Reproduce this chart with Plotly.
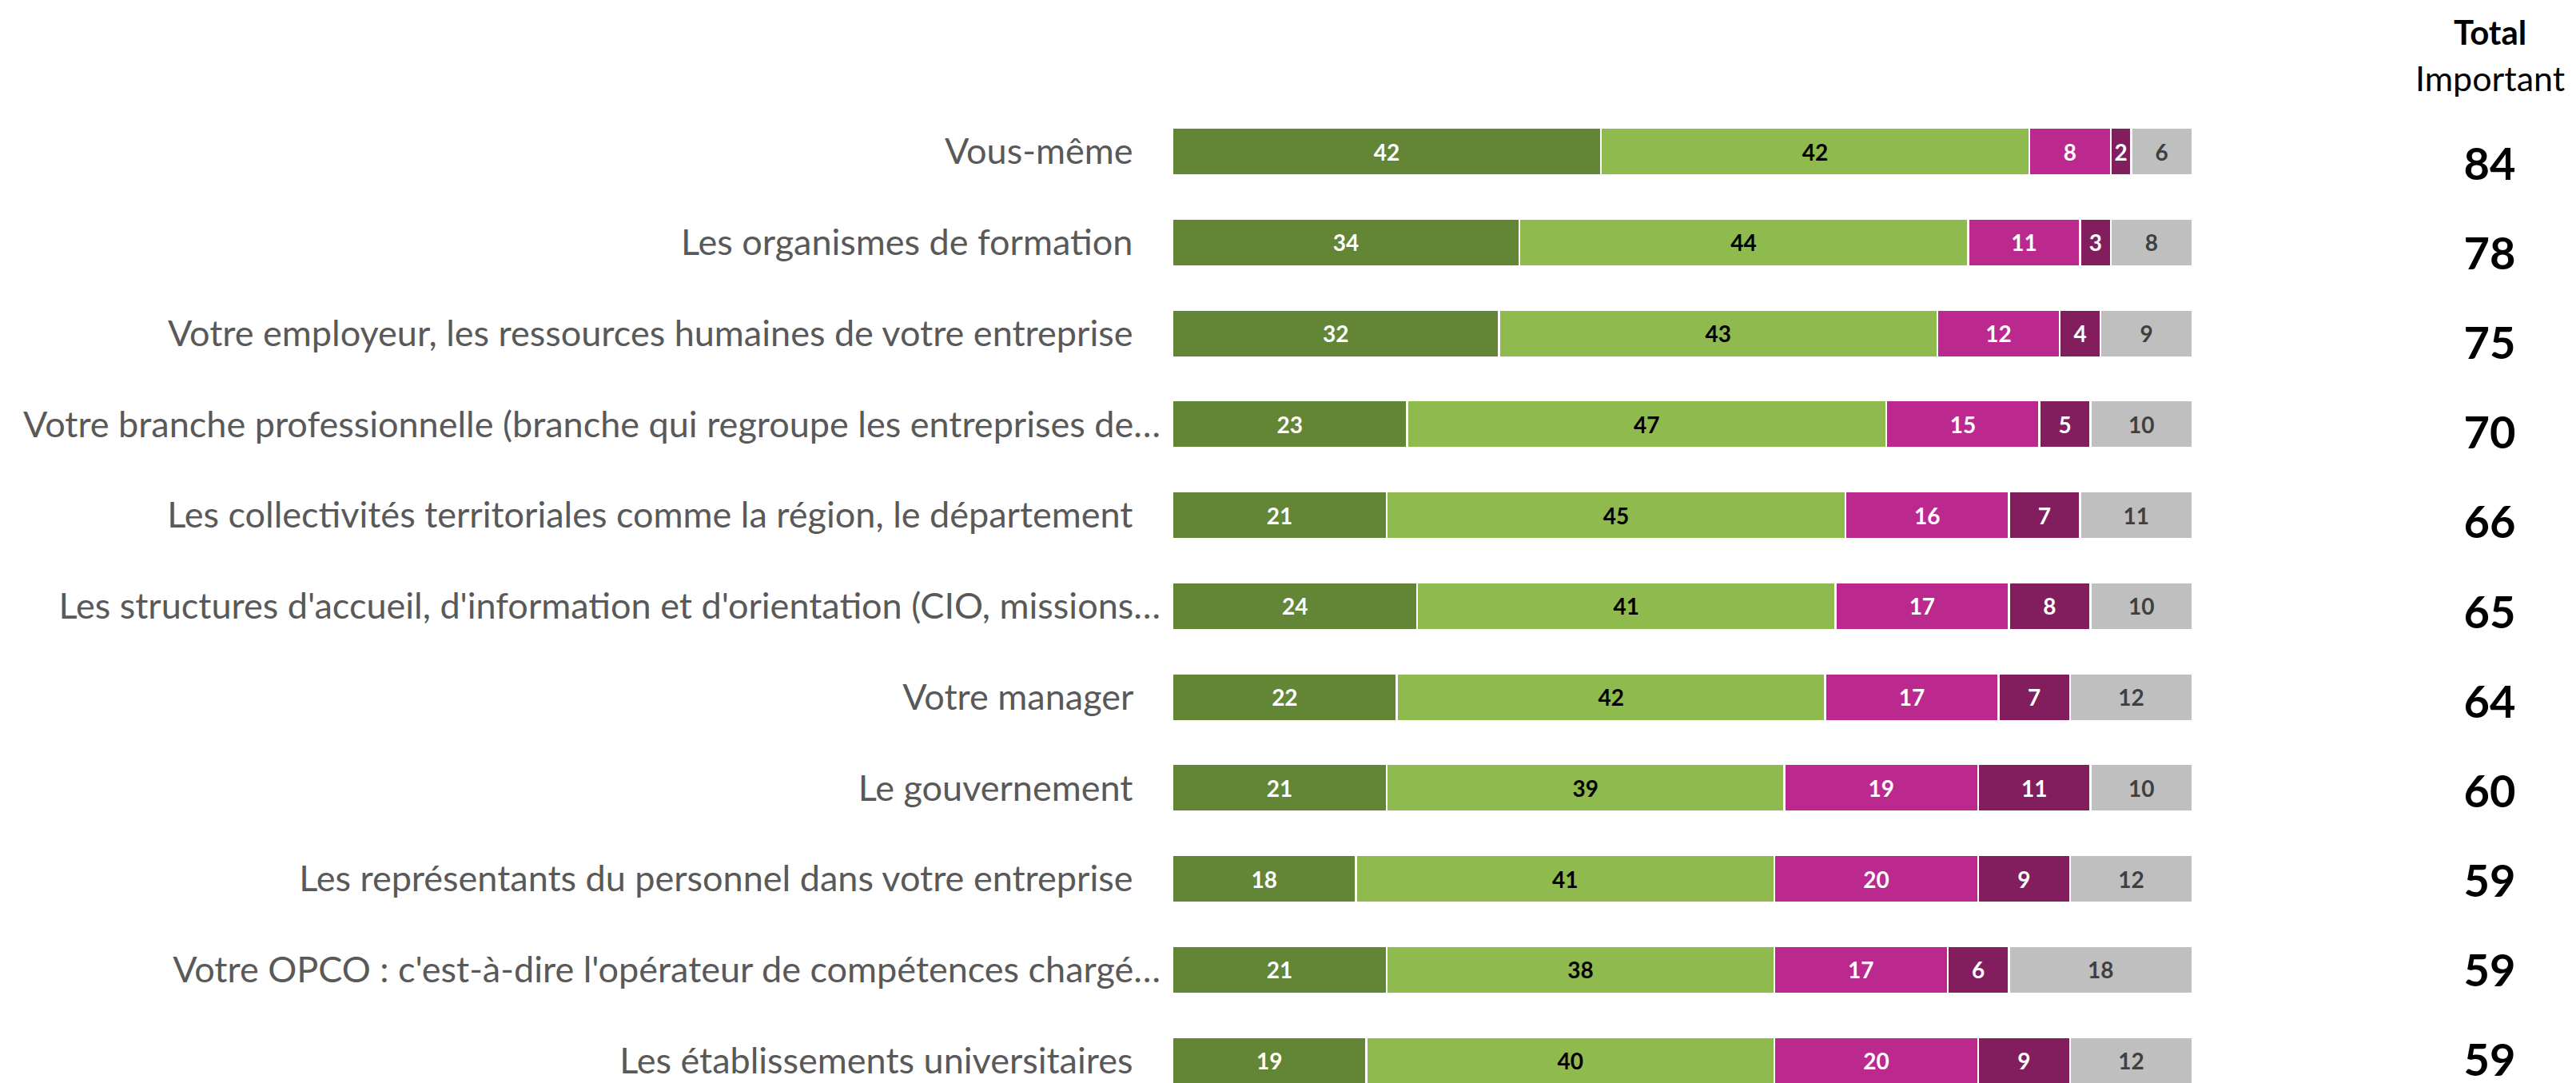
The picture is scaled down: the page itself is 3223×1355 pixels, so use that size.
import plotly.graph_objects as go

# acteurs (ordre du haut vers le bas)
categories = [
    "Vous-même",
    "Les organismes de formation",
    "Votre employeur, les ressources humaines de votre entreprise",
    "Votre branche professionnelle (branche qui regroupe les entreprises de…",
    "Les collectivités territoriales comme la région, le département",
    "Les structures d'accueil, d'information et d'orientation (CIO, missions…",
    "Votre manager",
    "Le gouvernement",
    "Les représentants du personnel dans votre entreprise",
    "Votre OPCO : c'est-à-dire l'opérateur de compétences chargé…",
    "Les établissements universitaires",
]

tres_important = [42, 34, 32, 23, 21, 24, 22, 21, 18, 21, 19]
assez_important = [42, 44, 43, 47, 45, 41, 42, 39, 41, 38, 40]
peu_important = [8, 11, 12, 15, 16, 17, 17, 19, 20, 17, 20]
pas_important = [2, 3, 4, 5, 7, 8, 7, 11, 9, 6, 9]
ne_sait_pas = [6, 8, 9, 10, 11, 10, 12, 10, 12, 18, 12]

total_important = [84, 78, 75, 70, 66, 65, 64, 60, 59, 59, 59]

series = [
    ("Très important", tres_important, "#638536", "white"),
    ("Assez important", assez_important, "#8EBA4E", "black"),
    ("Peu important", peu_important, "#BB298F", "white"),
    ("Pas du tout important", pas_important, "#821E5E", "white"),
    ("Ne sait pas", ne_sait_pas, "#BFBFBF", "#404040"),
]

W, H = 3223, 1355
OFF = 8  # marge du body de la page

# Excel garde un espace final sur les libellés non tronqués
labels = [c if c.endswith("…") else c + "\u00a0\u00a0\u00a0" for c in categories]

fig = go.Figure()
for name, vals, color, txtcolor in series:
    fig.add_trace(go.Bar(
        y=labels, x=vals, name=name, orientation="h",
        marker=dict(color=color, line=dict(color="white", width=2.5)),
        texttemplate="<b>%{x}</b>", textposition="inside",
        insidetextanchor="middle", textangle=0,
        textfont=dict(family="Lato", size=28, color=txtcolor),
    ))

# colonne "Total Important" : son propre axe, espacement un peu différent
fig.add_trace(go.Scatter(
    y=labels, x=[0] * len(labels), yaxis="y2", xaxis="x2",
    mode="text", text=[f"<b>{t}</b>" for t in total_important],
    textfont=dict(family="Lato", size=56, color="black"),
    textposition="middle center", cliponaxis=False, hoverinfo="skip",
))

tx = (3115 - OFF) / W
fig.add_annotation(x=tx, xref="paper", y=1 - (40 - OFF) / H, yref="paper",
                   text="<b>Total</b>", showarrow=False,
                   xanchor="center", yanchor="middle",
                   font=dict(family="Lato", size=42, color="black"))
fig.add_annotation(x=tx, xref="paper", y=1 - (97 - OFF) / H, yref="paper",
                   text="Important", showarrow=False,
                   xanchor="center", yanchor="middle",
                   font=dict(family="Lato", size=43, color="black"))

fig.update_layout(
    width=W, height=H,
    barmode="stack", bargap=0.477,
    showlegend=False,
    plot_bgcolor="white", paper_bgcolor="white",
    margin=dict(l=0, r=0, t=0, b=0),
    uniformtext=dict(minsize=28, mode="show"),
    xaxis=dict(domain=[(1467 - OFF) / W, (2743 - OFF) / W], range=[0, 100],
               showticklabels=False, showgrid=False, zeroline=False),
    yaxis=dict(range=[10 + (H + OFF - 1327) / 113.75, -(189.5 - OFF) / 113.75],
               showgrid=False, zeroline=False,
               ticklabelstandoff=14,
               tickfont=dict(family="Lato", size=45, color="#595959")),
    xaxis2=dict(domain=[tx - 0.02, tx + 0.02], range=[-1, 1], visible=False),
    yaxis2=dict(anchor="x2", overlaying="y", visible=False,
                range=[10 + (H + OFF - 1332) / 112.1, -(211 - OFF) / 112.1]),
)

fig.write_html("out.html")
